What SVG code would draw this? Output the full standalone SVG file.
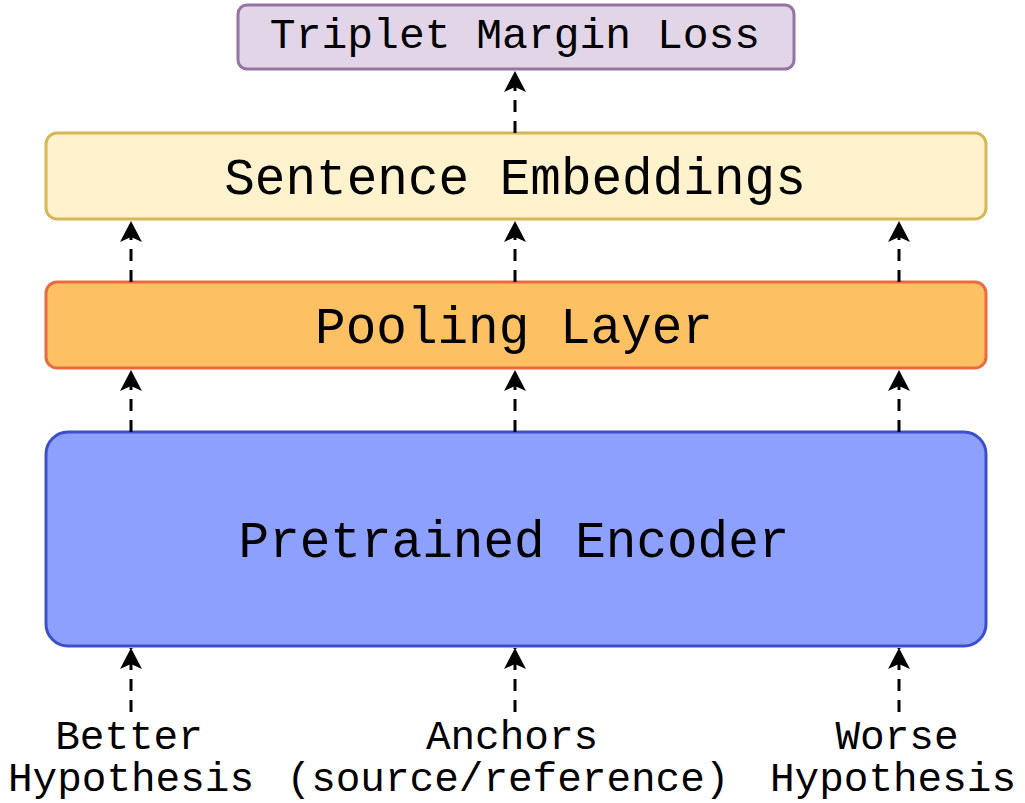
<svg xmlns="http://www.w3.org/2000/svg" width="1025" height="803" viewBox="0 0 1025 803">
<style>
.t{font-family:"Liberation Mono","Courier New",monospace;fill:#000}
.big{font-size:51px}
.mid{font-size:43px}
.lbl{font-size:41px}
.box{stroke-width:3}
.c{stroke:#000;stroke-width:3;stroke-dasharray:12 9;fill:none;marker-end:url(#arr)}
</style>
<defs>
<marker id="arr" viewBox="0 0 22 24" markerWidth="22" markerHeight="24" refX="21" refY="12" orient="auto" markerUnits="userSpaceOnUse">
<path d="M21,12 L0,1 L5,12 L0,23 Z" fill="#000"/>
</marker>
</defs>
<rect width="1025" height="803" fill="#fff"/>
<g id="loss">
<rect class="box" x="238" y="5" width="556" height="64" rx="9" fill="#e1d5e7" stroke="#9673a6"/>
<text class="t mid" x="515" y="48" text-anchor="middle">Triplet Margin Loss</text>
</g>
<g id="embeddings">
<rect class="box" x="46" y="133" width="940" height="86" rx="11" fill="#fff2cc" stroke="#d6b656"/>
<text class="t big" x="515" y="194" text-anchor="middle">Sentence Embeddings</text>
</g>
<g id="pooling">
<rect class="box" x="46" y="282" width="940" height="86" rx="11" fill="#fdc063" stroke="#ea6b40"/>
<text class="t big" x="514" y="343" text-anchor="middle">Pooling Layer</text>
</g>
<g id="encoder">
<rect class="box" x="46" y="432" width="940" height="214" rx="22" fill="#8ea0fd" stroke="#3b4fcc"/>
<text class="t big" x="514" y="557" text-anchor="middle">Pretrained Encoder</text>
</g>
<g id="better">
<text class="t lbl" x="129" y="749" text-anchor="middle">Better</text>
<text class="t lbl" x="131" y="791" text-anchor="middle">Hypothesis</text>
</g>
<g id="anchors">
<text class="t lbl" x="512" y="749" text-anchor="middle">Anchors</text>
<text class="t lbl" x="508" y="791" text-anchor="middle">(source/reference)</text>
</g>
<g id="worse">
<text class="t lbl" x="897" y="749" text-anchor="middle">Worse</text>
<text class="t lbl" x="893" y="791" text-anchor="middle">Hypothesis</text>
</g>
<g id="connectors">
<line class="c" x1="131" y1="712" x2="131" y2="648"/>
<line class="c" x1="515" y1="712" x2="515" y2="648"/>
<line class="c" x1="899" y1="712" x2="899" y2="648"/>
<line class="c" x1="131" y1="432" x2="131" y2="370"/>
<line class="c" x1="515" y1="432" x2="515" y2="370"/>
<line class="c" x1="899" y1="432" x2="899" y2="370"/>
<line class="c" x1="131" y1="282" x2="131" y2="221"/>
<line class="c" x1="515" y1="282" x2="515" y2="221"/>
<line class="c" x1="899" y1="282" x2="899" y2="221"/>
<line class="c" x1="515" y1="133" x2="515" y2="71"/>
</g>
</svg>
